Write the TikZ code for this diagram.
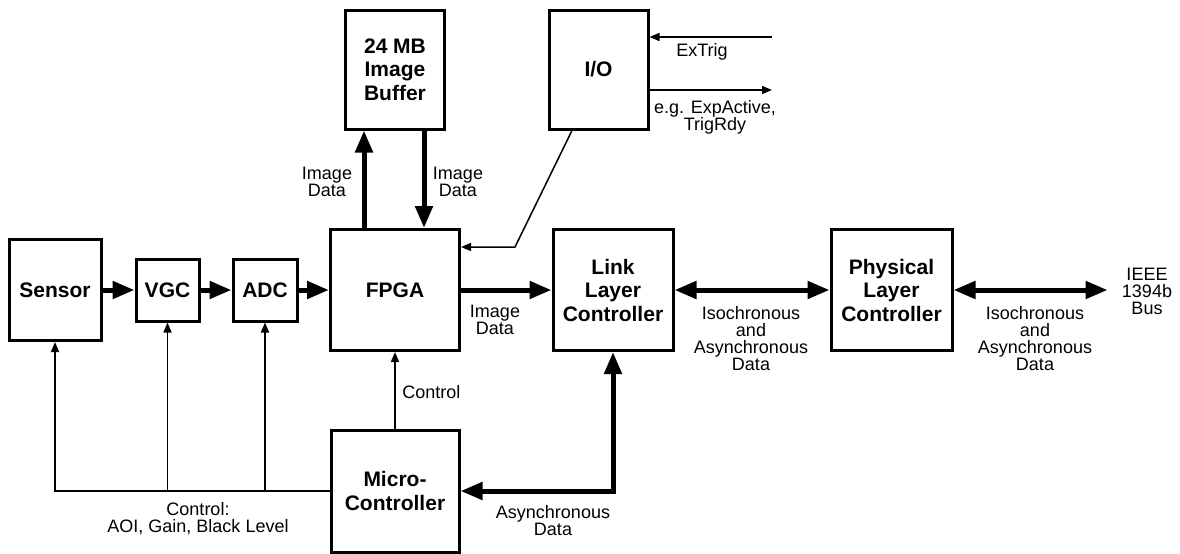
\documentclass[tikz,border=0pt]{standalone}
\usepackage{fontspec}
\setmainfont{Liberation Sans}
\usetikzlibrary{arrows.meta,positioning}

\tikzset{
  blk/.style={draw,line width=1.5pt,align=center,inner sep=0pt,
    font=\fontsize{10.5}{11.75}\selectfont\bfseries},
  lbl/.style={align=center,inner sep=0pt,font=\fontsize{9}{8.5}\selectfont},
  bus/.style={line width=2.5pt,-{Triangle[length=11pt,width=8.5pt]}},
  bibus/.style={line width=2.5pt,{Triangle[length=11pt,width=8.5pt]}-{Triangle[length=11pt,width=8.5pt]}},
  ctl/.style={line width=0.75pt,-{Triangle[length=5pt,width=4pt]}},
}

\begin{document}
\begin{tikzpicture}[x=0.5pt,y=-0.5pt]
    \useasboundingbox (0,0) rectangle (1180,553);
    \node[blk,minimum width=46pt,minimum height=50.5pt] (sensor) at (55,290) {Sensor};
    \node[blk,minimum width=31.5pt,minimum height=31pt] (vgc) at (167.5,290) {VGC};
    \node[blk,minimum width=32pt,minimum height=31pt] (adc) at (265,290) {ADC};
    \node[blk,minimum width=64.5pt,minimum height=60.5pt] (fpga) at (395,290) {FPGA};
    \node[blk,minimum width=49.5pt,minimum height=59.5pt] (buffer) at (395,69.5) {24 MB\\Image\\Buffer};
    \node[blk,minimum width=49.5pt,minimum height=59.5pt] (io) at (598.5,69.5) {I/O};
    \node[blk,minimum width=60pt,minimum height=60.5pt] (link) at (613,290) {Link\\Layer\\Controller};
    \node[blk,minimum width=60.5pt,minimum height=60.5pt] (phys) at (891.5,290) {Physical\\Layer\\Controller};
    \node[blk,minimum width=64pt,minimum height=61pt] (micro) at (395,491) {Micro-\\Controller};
    \node[lbl] (ieee) at (1147,291) {IEEE\\1394b\\Bus};
    \coordinate (iobend) at (515,247);
    \coordinate (trigin) at (772,37);
    \coordinate (trigout) at (772,90);

    \draw[bus] (sensor) -- (vgc);
    \draw[bus] (vgc) -- (adc);
    \draw[bus] (adc) -- (fpga);
    \draw[bus] (fpga) -- (link);
    \draw[bibus] (link) -- (phys);
    \draw[bibus,shorten >=7pt] (phys.east) -- (phys.east -| ieee.west);
    \draw[bus] ([xshift=-15.5pt]fpga.north) -- ([xshift=-15.5pt]fpga.north |- buffer.south);
    \draw[bus] ([xshift=14.5pt]buffer.south) -- ([xshift=14.5pt]buffer.south |- fpga.north);
    \draw[ctl] ([xshift=-13.25pt]io.south) -- (iobend) -- (iobend -| fpga.east);
    \draw[ctl] (trigin) -- (trigin -| io.east);
    \draw[ctl] (trigout -| io.east) -- (trigout);
    \draw[ctl] (micro) -- (fpga);
    \draw[ctl] (micro.west) -| (sensor.south);
    \draw[ctl] (micro.west -| vgc.south) -- (vgc.south);
    \draw[ctl] (micro.west -| adc.south) -- (adc.south);
    \draw[bibus] (link.south) |- (micro.east);

    \node[lbl] (extrig) at (702,52) {ExTrig};
    \node[lbl] (ioout) at (715,117) {e.g. ExpActive,\\TrigRdy};
    \node[lbl] (imgup) at (327,182) {Image\\Data};
    \node[lbl] (imgdown) at (458,182) {Image\\Data};
    \node[lbl] (imgout) at (495,320) {Image\\Data};
    \node[lbl] (iso1) at (751,339) {Isochronous\\and\\Asynchronous\\Data};
    \node[lbl] (iso2) at (1035,339) {Isochronous\\and\\Asynchronous\\Data};
    \node[lbl,anchor=west] (fpgactl) at (402,392) {Control};
    \node[lbl] (ctltext) at (198,519) {Control:\\AOI, Gain, Black Level};
    \node[lbl] (asyn) at (553,521) {Asynchronous\\Data};
\end{tikzpicture}
\end{document}
